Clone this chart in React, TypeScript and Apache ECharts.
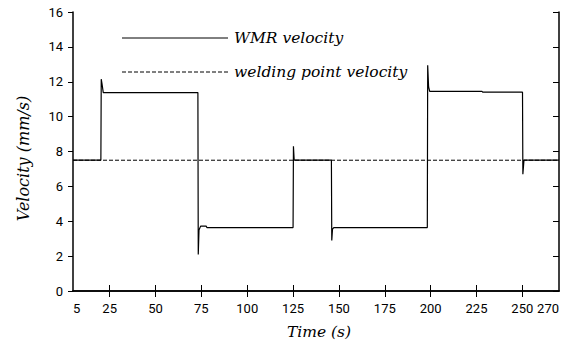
import React, { useEffect, useRef } from "react";
import * as echarts from "echarts";

// WMR velocity (step response)
const timeS = [5, 20.2, 20.4, 20.8, 21.5, 73.1, 73.3, 73.7, 74.6, 77.6, 78.0, 125.0, 125.2, 125.6, 145.9, 146.1, 146.5, 147.2, 198.2, 198.4, 198.9, 199.5, 228.0, 228.5, 250.1, 250.3, 250.9, 270];
const wmrVelocity = [7.5, 7.5, 12.15, 11.9, 11.38, 11.38, 2.1, 3.5, 3.72, 3.72, 3.64, 3.64, 8.3, 7.5, 7.5, 2.9, 3.55, 3.64, 3.64, 12.95, 11.7, 11.45, 11.45, 11.4, 11.4, 6.7, 7.5, 7.5];

// welding point velocity (constant)
const weldTime = [5, 270];
const weldVelocity = [7.5, 7.5];

const xTickValues = [25, 50, 75, 100, 125, 150, 175, 200, 225, 250];
const xLabelValues = [5, 25, 50, 75, 100, 125, 150, 175, 200, 225, 250, 270];
const legendNames = ["WMR velocity", "welding point velocity"];

const serif = "DejaVu Serif";
const sans = "Roboto";

export default function App() {
  const ref = useRef<HTMLDivElement>(null);
  useEffect(() => {
    if (!ref.current) return;
    const chart = echarts.init(ref.current, null, { renderer: "svg" });
    const axisLine = { show: true, lineStyle: { color: "#000", width: 1.5 } };
    const legendText = { fontFamily: serif, fontStyle: "italic", fontSize: 15.5, fill: "#000", verticalAlign: "middle" };
    chart.setOption({
      animation: false,
      backgroundColor: "#fff",
      grid: { left: 73, right: 9, top: 12, bottom: 56, outerBoundsMode: "none", containLabel: false },
      graphic: [
        { type: "line", shape: { x1: 122, y1: 38, x2: 228, y2: 38 }, style: { stroke: "#000", lineWidth: 1 } },
        { type: "text", x: 234, y: 38, style: { ...legendText, text: legendNames[0] } },
        { type: "line", shape: { x1: 122, y1: 72, x2: 228, y2: 72 }, style: { stroke: "#000", lineWidth: 1, lineDash: [4, 2] } },
        { type: "text", x: 234, y: 72, style: { ...legendText, text: legendNames[1] } },
      ],
      xAxis: [
        {
          type: "value",
          min: 5,
          max: 270,
          position: "bottom",
          name: "Time (s)",
          nameLocation: "middle",
          nameGap: 33,
          nameTextStyle: { fontFamily: serif, fontStyle: "italic", fontSize: 15.5, color: "#000", padding: [0, 0, 0, 6] },
          axisLine,
          axisTick: { show: true, inside: true, length: 6, customValues: xTickValues, lineStyle: { color: "#000", width: 1 } },
          axisLabel: { customValues: xLabelValues, margin: 11, fontFamily: sans, fontSize: 13, color: "#000", alignMinLabel: "left", alignMaxLabel: "right" },
          splitLine: { show: false },
        },
        {
          type: "value",
          min: 5,
          max: 270,
          position: "top",
          axisLine,
          axisTick: { show: true, inside: true, length: 6, customValues: xTickValues, lineStyle: { color: "#000", width: 1 } },
          axisLabel: { show: false },
          splitLine: { show: false },
        },
      ],
      yAxis: [
        {
          type: "value",
          min: 0,
          max: 16,
          interval: 2,
          position: "left",
          name: "Velocity (mm/s)",
          nameLocation: "middle",
          nameGap: 42,
          nameRotate: 90,
          nameTextStyle: { fontFamily: serif, fontStyle: "italic", fontSize: 16, color: "#000", padding: [0, 14, 0, 0] },
          axisLine,
          axisTick: { show: true, inside: false, length: 5, lineStyle: { color: "#000", width: 1 } },
          axisLabel: { margin: 10, fontFamily: sans, fontSize: 13, color: "#000" },
          splitLine: { show: false },
        },
        {
          type: "value",
          min: 0,
          max: 16,
          interval: 2,
          position: "right",
          axisLine,
          axisTick: { show: true, inside: true, length: 6, lineStyle: { color: "#000", width: 1 } },
          axisLabel: { show: false },
          splitLine: { show: false },
        },
      ],
      series: [
        {
          name: legendNames[1],
          type: "line",
          xAxisIndex: 0,
          yAxisIndex: 0,
          symbol: "none",
          data: weldTime.map((t, i) => [t, weldVelocity[i]]),
          lineStyle: { color: "#000", width: 1, type: [4, 2] },
          z: 2,
        },
        {
          name: legendNames[0],
          type: "line",
          xAxisIndex: 0,
          yAxisIndex: 0,
          symbol: "none",
          data: timeS.map((t, i) => [t, wmrVelocity[i]]),
          lineStyle: { color: "#000", width: 1.2 },
          z: 3,
        },
      ],
    });
    return () => chart.dispose();
  }, []);
  return <div ref={ref} style={{ position: "fixed", left: 0, top: 0, width: 568, height: 347 }} />;
}
